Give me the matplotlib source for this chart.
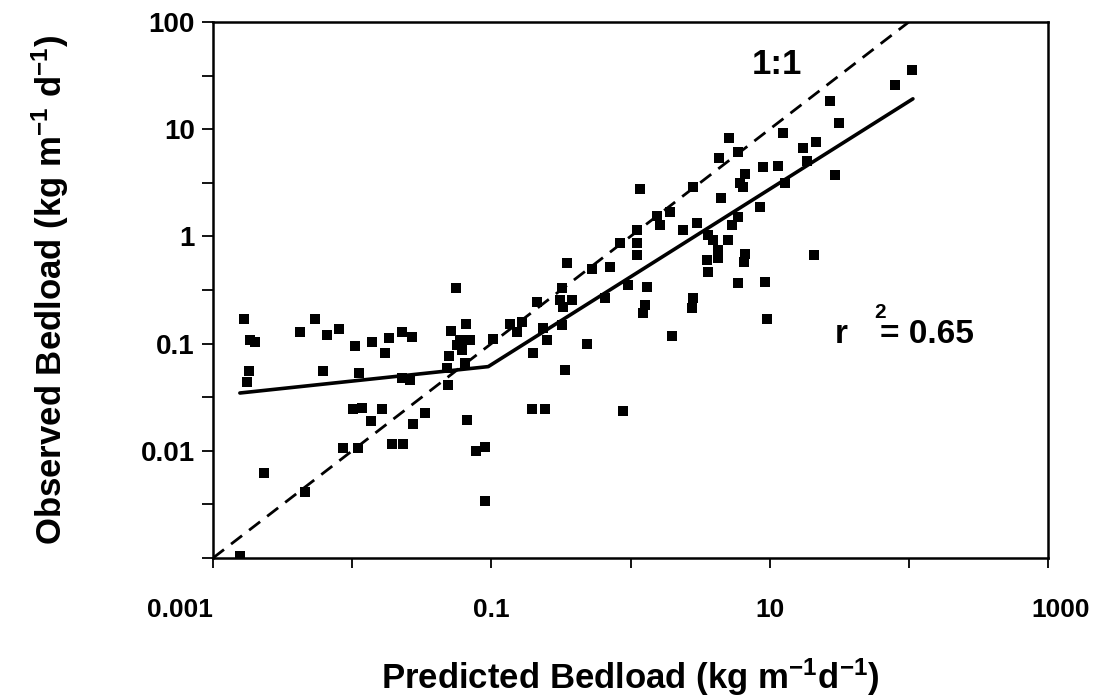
import matplotlib
matplotlib.use("Agg")
import matplotlib.pyplot as plt
from matplotlib.ticker import FixedLocator, NullFormatter
from matplotlib.transforms import ScaledTranslation

plt.rcParams['font.family'] = ['Liberation Sans', 'DejaVu Sans']
plt.rcParams['font.weight'] = 'bold'
plt.rcParams['mathtext.fontset'] = 'custom'
plt.rcParams['mathtext.rm'] = 'Liberation Sans:bold'
plt.rcParams['mathtext.it'] = 'Liberation Sans:bold'
plt.rcParams['mathtext.bf'] = 'Liberation Sans:bold'
plt.rcParams['mathtext.default'] = 'rm'

# ---- data ----
predicted = [0.00167, 0.0054, 0.00422, 0.00659, 0.00803, 0.00185, 0.00200, 0.01047,
             0.0139, 0.0172, 0.0184, 0.0228, 0.0269, 0.00181, 0.00175, 0.00617,
             0.0112, 0.0228, 0.0261, 0.01014, 0.01178, 0.01637, 0.01365, 0.0334,
             0.0274, 0.0668, 0.00859, 0.0110, 0.0193, 0.0232, 0.0776, 0.0900,
             0.00232, 0.00458, 0.0900, 0.00156, 0.0513, 0.0658, 0.0595, 0.0703,
             0.0567, 0.0615, 0.0497, 0.1028, 0.0648, 0.0480, 0.0488, 0.0557,
             0.136, 0.166, 0.153, 0.235, 0.322, 0.251, 0.199, 0.486,
             0.213, 0.311, 0.380, 0.327, 0.322, 0.350, 0.528, 0.338,
             0.196, 0.243, 0.656, 0.713, 0.960, 1.314, 1.271, 1.230,
             0.840, 1.113, 1.113, 1.113, 1.17, 1.549, 1.921, 1.629,
             0.883, 1.986, 2.81, 2.77, 2.81, 2.38, 3.01, 3.61,
             3.92, 5.02, 5.36, 5.92, 4.26, 3.55, 4.26, 6.65,
             6.54, 3.61, 5.92, 9.25, 9.57, 20.8, 4.47, 8.51,
             6.65, 6.12, 6.43, 8.95, 11.5, 12.9, 29.4, 18.5,
             17.3, 21.5, 12.5, 4.33, 5.92, 5.10, 27.1, 31.5,
             79.6, 105.4]
observed = [0.170, 0.170, 0.128, 0.120, 0.137, 0.108, 0.1035, 0.0951,
            0.1035, 0.0817, 0.1127, 0.128, 0.1153, 0.0555, 0.0439, 0.0555,
            0.0532, 0.0478, 0.0457, 0.0245, 0.0251, 0.0245, 0.0190, 0.0225,
            0.0178, 0.0194, 0.0106, 0.0106, 0.01156, 0.01156, 0.00996, 0.01084,
            0.00621, 0.00413, 0.00340, 0.00104, 0.1312, 0.1525, 0.108, 0.108,
            0.0971, 0.0871, 0.0766, 0.1104, 0.0659, 0.0592, 0.0411, 0.330,
            0.1525, 0.159, 0.128, 0.140, 0.149, 0.108, 0.0817, 0.0991,
            0.244, 0.255, 0.255, 0.219, 0.330, 0.565, 0.497, 0.0568,
            0.0245, 0.0245, 0.266, 0.519, 0.352, 0.337, 0.229, 0.193,
            0.868, 1.147, 0.868, 0.670, 2.77, 1.549, 1.689, 1.276,
            0.0235, 0.118, 0.266, 0.215, 2.89, 1.147, 1.334, 1.03,
            0.925, 0.925, 1.276, 1.517, 0.747, 0.603, 0.630, 0.686,
            0.577, 0.466, 0.367, 0.376, 0.170, 0.670, 2.28, 1.88,
            3.82, 3.15, 2.89, 4.44, 4.54, 3.15, 3.74, 5.05,
            6.68, 7.60, 9.23, 5.38, 6.12, 8.28, 18.3, 11.4,
            25.8, 35.6]

fit_x = [0.00156, 0.095, 107.0]
fit_y = [0.0346, 0.061, 19.2]
one_to_one = [0.001, 100.0]

x_ticks = [0.001, 0.01, 0.1, 1, 10, 100, 1000]
x_ticklabels = ['0.001', '', '0.1', '', '10', '', '1000']
y_ticks = [0.001, 0.01, 0.1, 1, 10, 100]
y_ticklabels = ['', '0.01', '0.1', '1', '10', '100']
y_minor = [0.00316, 0.0316, 0.316, 3.16, 31.6]

# ---- figure ----
fig = plt.figure(figsize=(11.15, 7.0), dpi=100)
ax = fig.add_axes([213 / 1115, 142 / 700, 835 / 1115, 536 / 700])
ax.set_xscale('log')
ax.set_yscale('log')
ax.set_xlim(0.001, 1000)
ax.set_ylim(0.001, 100)

ax.plot(one_to_one, one_to_one, color='black', lw=2.0, dashes=(5, 3.2), zorder=2)
ax.plot(fit_x, fit_y, color='black', lw=2.6, solid_capstyle='round', zorder=2)
ax.plot(predicted, observed, linestyle='none', marker='s', markersize=7.5,
        color='black', markeredgewidth=0, zorder=3)

ax.xaxis.set_major_locator(FixedLocator(x_ticks))
ax.set_xticklabels(x_ticklabels)
ax.xaxis.set_minor_locator(FixedLocator([]))
ax.xaxis.set_minor_formatter(NullFormatter())
ax.yaxis.set_major_locator(FixedLocator(y_ticks))
ax.set_yticklabels(y_ticklabels)
ax.yaxis.set_minor_locator(FixedLocator(y_minor))
ax.yaxis.set_minor_formatter(NullFormatter())

ax.tick_params(axis='x', which='major', direction='out', length=7, width=1.3,
               pad=22, labelsize=19)
ax.tick_params(axis='y', which='both', direction='out', length=8, width=1.3,
               pad=5, labelsize=20)
for lab in ax.get_xticklabels() + ax.get_yticklabels():
    lab.set_fontweight('bold')

xlabs = ax.get_xticklabels()
xlabs[0].set_horizontalalignment('right')
xlabs[-1].set_transform(xlabs[-1].get_transform() +
                        ScaledTranslation(0.13, 0, fig.dpi_scale_trans))

for sp in ax.spines.values():
    sp.set_linewidth(1.8)

ax.set_xlabel('Predicted Bedload (kg m$^{-1}$d$^{-1}$)', fontsize=25,
              fontweight='bold', labelpad=25)
ax.set_ylabel('Observed Bedload (kg m$^{-1}$ d$^{-1}$)', fontsize=25,
              fontweight='bold', labelpad=50)

ax.text(0.6754, 0.92, '1:1', transform=ax.transAxes, fontsize=25,
        fontweight='bold', ha='center', va='center')
ax.text(0.745, 0.401, 'r', transform=ax.transAxes, fontsize=24,
        fontweight='bold', ha='left', va='baseline')
ax.text(0.799, 0.448, '2', transform=ax.transAxes, fontsize=15,
        fontweight='bold', ha='center', va='baseline')
ax.text(0.799, 0.401, '= 0.65', transform=ax.transAxes, fontsize=24,
        fontweight='bold', ha='left', va='baseline')

fig.savefig('out.png', dpi=100)
